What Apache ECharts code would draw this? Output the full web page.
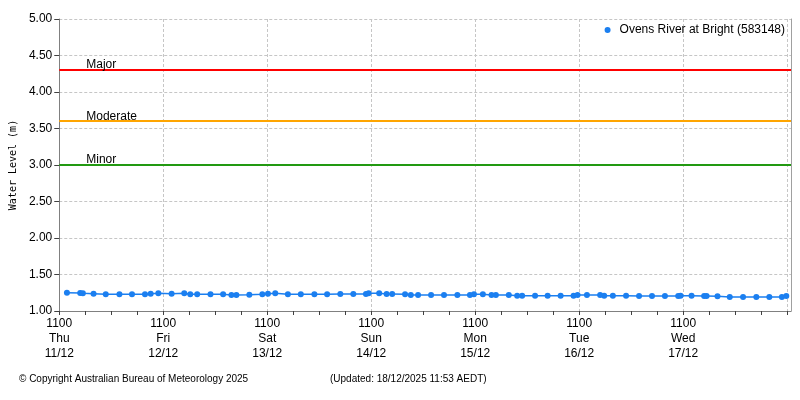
<!DOCTYPE html>
<html>
<head>
<meta charset="utf-8">
<script src="https://cdn.jsdelivr.net/npm/echarts@6/dist/echarts.min.js"></script>
<style>
html,body{margin:0;padding:0;background:#fff;}
#chart{width:800px;height:400px;}
</style>
</head>
<body>
<div id="chart"></div>
<script>
// ---- Data ----
const seriesName = 'Ovens River at Bright (583148)';
const obsTimes = [
 '2025-12-11 12:46','2025-12-11 15:50','2025-12-11 16:27','2025-12-11 18:55','2025-12-11 21:44',
 '2025-12-12 00:53','2025-12-12 03:47','2025-12-12 06:47','2025-12-12 08:06','2025-12-12 09:52',
 '2025-12-12 12:56','2025-12-12 15:51','2025-12-12 17:14','2025-12-12 18:50','2025-12-12 21:54',
 '2025-12-13 00:49','2025-12-13 02:44','2025-12-13 03:53','2025-12-13 06:52','2025-12-13 09:52',
 '2025-12-13 11:10','2025-12-13 12:51','2025-12-13 15:46','2025-12-13 18:45','2025-12-13 21:53',
 '2025-12-14 00:49','2025-12-14 03:52','2025-12-14 06:52','2025-12-14 09:47','2025-12-14 10:24',
 '2025-12-14 12:50','2025-12-14 14:33','2025-12-14 15:50','2025-12-14 18:49','2025-12-14 20:08',
 '2025-12-14 21:49','2025-12-15 00:49','2025-12-15 03:48','2025-12-15 06:53','2025-12-15 09:47',
 '2025-12-15 10:42','2025-12-15 12:46','2025-12-15 14:46','2025-12-15 15:46','2025-12-15 18:45',
 '2025-12-15 20:41','2025-12-15 21:50','2025-12-16 00:49','2025-12-16 03:43','2025-12-16 06:43',
 '2025-12-16 09:42','2025-12-16 10:37','2025-12-16 12:47','2025-12-16 15:50','2025-12-16 16:46',
 '2025-12-16 18:46','2025-12-16 21:49','2025-12-17 00:49','2025-12-17 03:48','2025-12-17 06:47',
 '2025-12-17 09:51','2025-12-17 10:24','2025-12-17 12:56','2025-12-17 15:50','2025-12-17 16:24',
 '2025-12-17 18:55','2025-12-17 21:45','2025-12-18 00:49','2025-12-18 03:53','2025-12-18 06:53',
 '2025-12-18 09:47','2025-12-18 10:48'
];
const waterLevels = [
 1.251,1.247,1.242,1.237,1.229,
 1.229,1.229,1.229,1.237,1.242,
 1.237,1.242,1.229,1.229,1.229,
 1.229,1.219,1.219,1.223,1.229,
 1.237,1.242,1.229,1.229,1.229,
 1.229,1.233,1.233,1.233,1.242,
 1.242,1.233,1.233,1.229,1.219,
 1.219,1.219,1.219,1.219,1.219,
 1.229,1.229,1.219,1.219,1.219,
 1.210,1.210,1.210,1.210,1.210,
 1.210,1.219,1.219,1.219,1.210,
 1.210,1.210,1.205,1.205,1.205,
 1.205,1.210,1.210,1.205,1.205,
 1.201,1.192,1.192,1.192,1.192,
 1.192,1.205
];
const floodNames = ['Major', 'Moderate', 'Minor'];
const floodLevels = [4.30, 3.60, 3.00];
const floodColors = ['#ff0000', '#ffa500', '#229911'];
const axisStart = '2025-12-11 11:00';
const axisEnd = '2025-12-18 11:53';
const dayNames = ['Sun','Mon','Tue','Wed','Thu','Fri','Sat'];
const yMin = 1.0, yMax = 5.0, yStep = 0.5;
const copyrightText = '\u00A9 Copyright Australian Bureau of Meteorology 2025';
const updatedText = '(Updated: 18/12/2025 11:53 AEDT)';

// ---- helpers ----
function parseUTC(s){
  const m = s.match(/(\d+)-(\d+)-(\d+) (\d+):(\d+)/);
  return Date.UTC(+m[1], +m[2]-1, +m[3], +m[4], +m[5]);
}
const HOUR = 3600000, DAY = 24*HOUR;
const t0 = parseUTC(axisStart), t1 = parseUTC(axisEnd);
const seriesData = obsTimes.map((t,i)=>[parseUTC(t), waterLevels[i]]);
const tickVals = []; for (let t = t0; t <= t1; t += 6*HOUR) tickVals.push(t);
function pad(n){return (n<10?'0':'')+n;}
function fmtX(v){
  const off = (v - t0) / DAY;
  if (Math.abs(off - Math.round(off)) > 1e-6 || Math.round(off) >= 7) return '';
  const d = new Date(v);
  return pad(d.getUTCHours()) + pad(d.getUTCMinutes()) + '\n' + dayNames[d.getUTCDay()] + '\n' + pad(d.getUTCDate()) + '/' + pad(d.getUTCMonth()+1);
}

const FONT = 'Liberation Sans';
const GRID_COLOR = '#c6c6c6';
const chart = echarts.init(document.getElementById('chart'), null, {renderer:'canvas'});
chart.setOption({
  backgroundColor: '#ffffff',
  animation: false,
  textStyle: {fontFamily: FONT},
  title: [
    {text: copyrightText, left: 19, top: 374, padding: 0, textStyle:{fontSize:10, fontWeight:'normal', color:'#000', fontFamily: FONT}},
    {text: updatedText, left: 330, top: 374, padding: 0, textStyle:{fontSize:10, fontWeight:'normal', color:'#000', fontFamily: FONT}}
  ],
  legend: {
    right: 15, top: 24, padding: 0,
    icon: 'circle', itemWidth: 14, itemHeight: 6,
    textStyle: {fontSize: 12, color: '#000', fontFamily: FONT},
    data: [seriesName]
  },
  grid: {left: 57, right: 9, top: 19, bottom: 89, containLabel: false},
  xAxis: [{
    type: 'value', min: t0, max: t1, interval: DAY, position: 'bottom',
    axisLine: {show: true, lineStyle: {color: '#808080', width: 1}},
    axisTick: {show: false},
    axisLabel: {show: true, formatter: fmtX, fontSize: 12, lineHeight: 15, margin: 5, color: '#000', fontFamily: FONT},
    splitLine: {show: true, lineStyle: {color: GRID_COLOR, type: [3, 2], width: 1}}
  }, {
    type: 'value', min: t0, max: t1, interval: DAY, position: 'bottom',
    axisLine: {show: false},
    axisTick: {show: true, length: 4, customValues: tickVals, lineStyle: {color: '#404040'}},
    axisLabel: {show: false},
    splitLine: {show: false}
  }],
  yAxis: [{
    type: 'value', min: yMin, max: yMax, interval: yStep,
    name: 'Water Level (m)', nameLocation: 'middle', nameRotate: 90, nameGap: 40,
    nameTextStyle: {fontFamily: 'DejaVu Sans Mono', fontSize: 10, color: '#000'},
    axisLine: {show: true, lineStyle: {color: '#808080', width: 1}},
    axisTick: {show: true, length: 5, lineStyle: {color: '#404040'}},
    axisLabel: {formatter: v => v.toFixed(2), fontSize: 12, margin: 7, color: '#000', fontFamily: FONT},
    splitLine: {show: true, lineStyle: {color: GRID_COLOR, type: [3, 2], width: 1}}
  }, {
    type: 'value', min: yMin, max: yMax, interval: yStep, position: 'right',
    axisLine: {show: true, lineStyle: {color: '#a0a0a0', width: 1}},
    axisTick: {show: false}, axisLabel: {show: false}, splitLine: {show: false}
  }],
  series: [{
    name: seriesName, type: 'line', xAxisIndex: 0, yAxisIndex: 0,
    data: seriesData,
    symbol: 'circle', symbolSize: 6, showSymbol: true,
    itemStyle: {color: '#1b7ff0'},
    lineStyle: {color: '#1b7ff0', width: 1.5},
    markLine: {
      silent: true, symbol: 'none', animation: false,
      data: floodLevels.map((v,i)=>({
        yAxis: v, name: floodNames[i],
        lineStyle: {color: floodColors[i], width: 2, type: 'solid'},
        label: {show: true, position: 'insideStartTop', formatter: floodNames[i], distance: [27, -1], color: '#000', fontSize: 12, fontFamily: FONT}
      }))
    }
  }]
});
</script>
</body>
</html>
